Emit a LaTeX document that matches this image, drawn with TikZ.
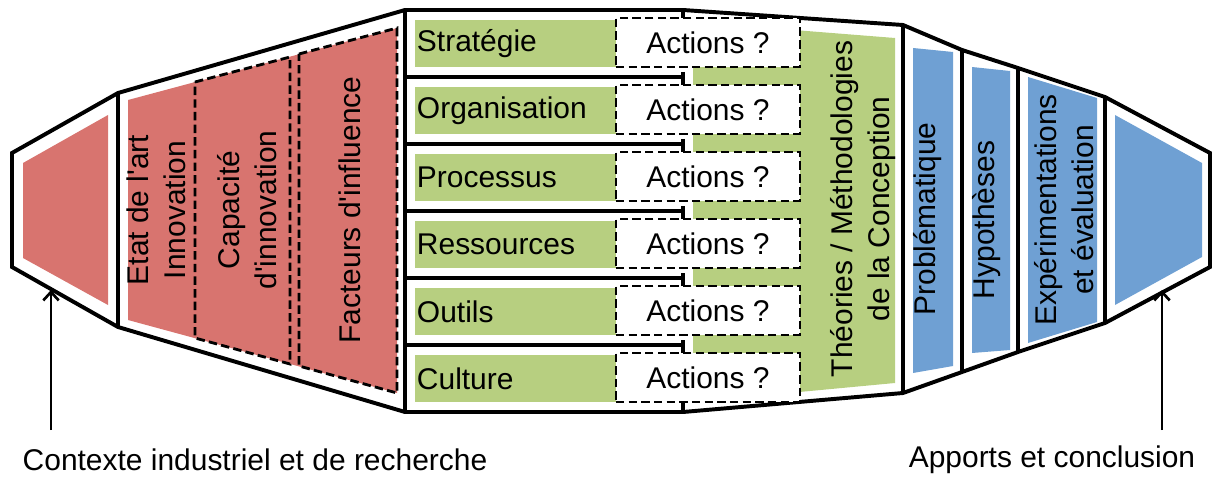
\documentclass[tikz,border=0pt]{standalone}
\usepackage{fontspec}
\setmainfont{Liberation Sans}[Ligatures=TeXOff]
\usetikzlibrary{arrows.meta}
\definecolor{rouge}{HTML}{D8746F}
\definecolor{vert}{HTML}{B7CF80}
\definecolor{bleu}{HTML}{6FA0D3}

\begin{document}
\begin{tikzpicture}[x=0.025cm, y=-0.025cm,
    trait/.style={line width=2.8pt, line join=miter},
    pointille/.style={line width=2pt, dash pattern=on 6pt off 3pt},
    texte/.style={font=\fontsize{21.3}{26.3}\selectfont, inner sep=0pt, align=center},
    vertical/.style={texte, rotate=90},
    etiquette/.style={fill=vert, minimum width=5.025cm, minimum height=1.175cm, text width=4.925cm, inner xsep=0.05cm, align=left, font=\fontsize{21.3}{26.3}\selectfont},
    actions/.style={pointille, draw, fill=white, minimum width=4.6cm, minimum height=1.225cm, font=\fontsize{21.3}{26.3}\selectfont},
    fleche/.style={line width=1.9pt, -{Straight Barb[length=6pt,width=11pt]}}]
    \useasboundingbox (0,0) rectangle (1212,479);

    \fill[rouge] (23,163) -- (108,115) -- (108,305) -- (23,258) -- cycle;
    \fill[rouge] (128,100) -- (397,28) -- (397,393) -- (128,320) -- cycle;
    \draw[pointille] (195,82) -- (290,57) -- (290,364) -- (195,338) -- cycle;
    \draw[pointille] (299,54) -- (397,28) -- (397,393) -- (299,366) -- cycle;
    \fill[vert] (693,22) -- (895,38) -- (895,383) -- (693,402) -- cycle;
    \fill[bleu] (913,48) -- (953,52) -- (953,366) -- (913,373) -- cycle;
    \fill[bleu] (972,67) -- (1010,71) -- (1010,350) -- (972,353) -- cycle;
    \fill[bleu] (1028,77) -- (1097,98) -- (1097,322) -- (1028,343) -- cycle;
    \fill[bleu] (1115,115) -- (1202,163) -- (1202,257) -- (1115,305) -- cycle;

    \draw[trait] (12,153) -- (118,93) -- (405,10) -- (683,10) -- (903,25) -- (962,50) -- (1018,68) -- (1105,97) -- (1210,153)
        -- (1210,267) -- (1105,323) -- (1018,352) -- (962,372) -- (903,393) -- (683,412) -- (405,412) -- (118,327) -- (12,267) -- cycle;
    \foreach \xa/\ya/\yb in {118/93/327, 405/10/412, 903/25/393, 962/50/372, 1018/68/352, 1105/97/323}
        \draw[trait] (\xa,\ya) -- (\xa,\yb);

    \foreach \i in {1,...,5}
        \draw[trait] (405,{10+67*\i}) -- (683,{10+67*\i}) (683,{5+67*\i}) -- (683,{18+67*\i});
    \draw[trait] (683,10) -- (683,18) (683,402) -- (683,412);

    \foreach \nom [count=\i from 0] in {Stratégie,Organisation,Processus,Ressources,Outils,Culture} {
        \node[etiquette] (lab\i) at (515.5,{43.5+67*\i}) {\nom};
        \node[actions] (act\i) at (708,{42.5+67*\i}) {Actions ?};
    }

    \node[vertical] (etat) at (156,210) {Etat de l'art\\Innovation};
    \node[vertical] (capacite) at (247,210) {Capacité\\d'innovation};
    \node[vertical] (facteurs) at (350,210) {Facteurs d'influence};
    \node[vertical] (theories) at (863,209) {Théories / Méthodologies\\de la Conception};
    \node[vertical] (probleme) at (928,219) {Problématique};
    \node[vertical] (hypo) at (987,220) {Hypothèses};
    \node[vertical] (experim) at (1064,210) {Expérimentations\\et évaluation};

    \node[texte] (contexte) at (255,460) {Contexte industriel et de recherche};
    \node[texte] (apports) at (1052,460) {Apports et conclusion};

    \coordinate (pied1) at (51,430);
    \coordinate (bout1) at (51,290);
    \coordinate (pied2) at (1162,430);
    \coordinate (bout2) at (1162,290);
    \draw[fleche] (pied1) -- (bout1);
    \draw[fleche] (pied2) -- (bout2);
\end{tikzpicture}
\end{document}
